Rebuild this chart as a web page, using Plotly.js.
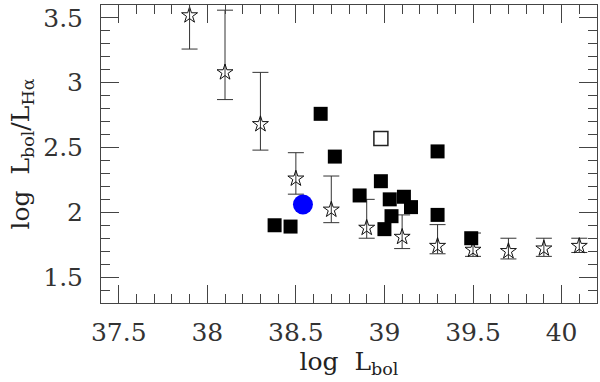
<!DOCTYPE html>
<html>
<head>
<meta charset="utf-8">
<script src="https://cdn.plot.ly/plotly-3.0.1.min.js"></script>
<style>
  html, body { margin: 0; padding: 0; background: #fff; }
  #chart { width: 600px; height: 382px; }
</style>
</head>
<body>
<div id="chart"></div>
<script>
// binned averages (open stars) with asymmetric errors
const starX = [37.9, 38.1, 38.3, 38.5, 38.7, 38.9, 39.1, 39.3, 39.5, 39.7, 39.9, 40.1];
const starY = [3.52, 3.08, 2.68, 2.26, 2.02, 1.88, 1.81, 1.74, 1.71, 1.70, 1.72, 1.74];
const starErrPlus = [0.50, 0.48, 0.40, 0.20, 0.26, 0.22, 0.17, 0.165, 0.13, 0.10, 0.08, 0.06];
const starErrMinus = [0.26, 0.21, 0.20, 0.12, 0.10, 0.08, 0.09, 0.06, 0.05, 0.06, 0.06, 0.05];

// individual objects (filled squares)
const sqX = [38.38, 38.47, 38.64, 38.72, 38.86, 38.98, 39.0, 39.03, 39.04, 39.11, 39.15, 39.30, 39.30, 39.49];
const sqY = [1.90, 1.89, 2.76, 2.43, 2.13, 2.24, 1.87, 2.10, 1.97, 2.12, 2.04, 2.47, 1.98, 1.80];

// open square and blue circle
const openX = [38.98];
const openY = [2.57];
const circX = [38.54];
const circY = [2.06];

const fontFam = '"DejaVu Serif", "Liberation Serif", serif';

const traces = [
  {
    x: starX, y: starY, type: 'scatter', mode: 'markers',
    marker: {symbol: 'star-open', size: 12, color: '#111', line: {width: 1, color: '#111'}},
    error_y: {
      type: 'data', symmetric: false,
      array: starErrPlus, arrayminus: starErrMinus,
      color: '#333', thickness: 1, width: 8
    }
  },
  {
    x: sqX, y: sqY, type: 'scatter', mode: 'markers',
    marker: {symbol: 'square', size: 14, color: '#000'}
  },
  {
    x: openX, y: openY, type: 'scatter', mode: 'markers',
    marker: {symbol: 'square-open', size: 14, color: '#222', line: {width: 1.5, color: '#222'}}
  },
  {
    x: circX, y: circY, type: 'scatter', mode: 'markers',
    marker: {symbol: 'circle', size: 20, color: '#0000ff'}
  }
];

const axisCommon = {
  showgrid: false,
  zeroline: false,
  showline: true,
  linecolor: '#444',
  linewidth: 1,
  mirror: 'ticks',
  ticks: 'inside',
  ticklen: 18,
  tickwidth: 1,
  tickcolor: '#444',
  dtick: 0.5,
  tickfont: {family: fontFam, size: 25, color: '#333'},
  minor: {dtick: 0.1, ticklen: 9, tickwidth: 1, tickcolor: '#444', ticks: 'inside', showgrid: false}
};

const layout = {
  width: 600,
  height: 382,
  margin: {l: 101, r: 3, t: 5, b: 79},
  paper_bgcolor: '#fff',
  plot_bgcolor: '#fff',
  showlegend: false,
  xaxis: Object.assign({}, axisCommon, {
    range: [37.4, 40.2],
    tick0: 37.5,
    ticklabelstandoff: 7,
    title: {text: 'log\u00a0\u00a0L<sub>bol</sub>', font: {family: fontFam, size: 25, color: '#222'}, standoff: 4}
  }),
  yaxis: Object.assign({}, axisCommon, {
    range: [1.3, 3.6],
    tick0: 1.5,
    ticklabelstandoff: 12,
    title: {text: 'log\u00a0\u00a0L<sub>bol</sub>/L<sub>H\u03b1</sub>', font: {family: fontFam, size: 25, color: '#222'}, standoff: 6}
  })
};

Plotly.newPlot('chart', traces, layout, {displayModeBar: false, staticPlot: true});
</script>
</body>
</html>
